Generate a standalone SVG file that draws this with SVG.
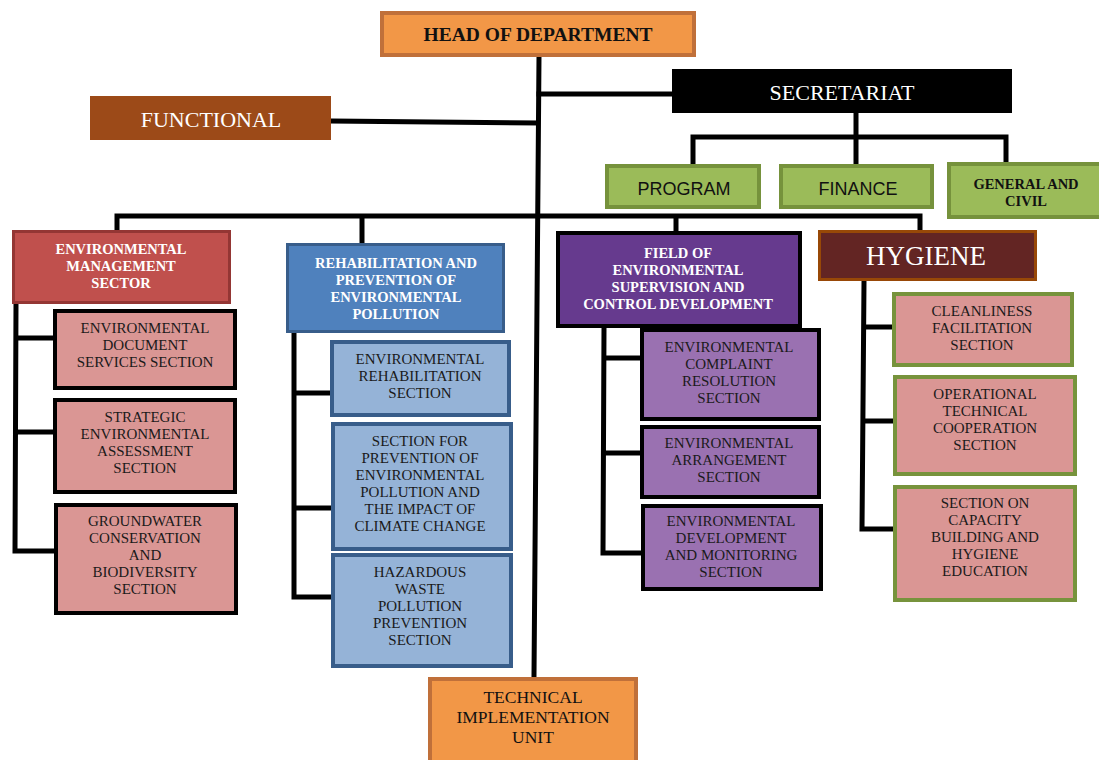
<svg xmlns="http://www.w3.org/2000/svg" width="1099" height="760" viewBox="0 0 1099 760">
<style>
.ln{stroke:#000;stroke-width:5;fill:none;stroke-linecap:square}
.t{font-family:"Liberation Serif","Times New Roman",serif;text-anchor:middle}
.b{font-weight:bold;font-size:14.5px;fill:#fff}
.s{font-size:15px;fill:#1a1a1a}
.sans{font-family:"Liberation Sans",Arial,sans-serif;text-anchor:middle;font-size:18px;fill:#111}
.org{fill:#F29747;stroke:#C0703A;stroke-width:4}
.grn{fill:#9BBB59;stroke:#76923C;stroke-width:4}
.pinkK{fill:#DA9694;stroke:#000;stroke-width:4}
.blu{fill:#95B3D7;stroke:#385D8A;stroke-width:4}
.pur{fill:#9A71B1;stroke:#000;stroke-width:4}
.pinkG{fill:#DA9694;stroke:#77933C;stroke-width:4}
</style>
<rect width="1099" height="760" fill="#fff"/>
<g id="connectors">
<path class="ln" d="M539 57 L534 676"/>
<path class="ln" d="M539 94 L672 94"/>
<path class="ln" d="M332 121 L537 123"/>
<path class="ln" d="M856 113 L856 164 M693 137 L1006 137 M693 137 L693 164 M1006 137 L1006 162"/>
<path class="ln" d="M117 216 L920 216 M117 216 L117 229 M362 216 L362 242 M676 216 L676 230 M920 216 L920 230"/>
<path class="ln" d="M16 304 L15 551 L53 551 M16 338 L53 338 M16 432 L53 432"/>
<path class="ln" d="M294 334 L294 597 L330 597 M294 393 L330 393 M294 508 L330 508"/>
<path class="ln" d="M604 328 L603 553 L640 553 M604 358 L640 358 M604 453 L640 453"/>
<path class="ln" d="M864 282 L862 529 L893 529 M864 327 L893 327 M863 421 L893 421"/>
</g>
<g id="head">
<rect class="org" x="382" y="13" width="312" height="42"/>
<text class="t" x="538" y="41" font-size="19.5" font-weight="bold" fill="#111">HEAD OF DEPARTMENT</text>
</g>
<g id="secretariat">
<rect x="672" y="69" width="340" height="44" fill="#000"/>
<text class="t" x="842" y="100" font-size="22" fill="#fff">SECRETARIAT</text>
</g>
<g id="functional">
<rect x="90" y="96" width="241" height="44" fill="#9C4A18"/>
<text class="t" x="211" y="127" font-size="22" fill="#fff">FUNCTIONAL</text>
</g>
<g id="program">
<rect class="grn" x="607" y="166" width="152" height="41"/>
<text class="sans" x="684" y="195">PROGRAM</text>
</g>
<g id="finance">
<rect class="grn" x="781" y="166" width="151" height="41"/>
<text class="sans" x="858" y="195">FINANCE</text>
</g>
<g id="general">
<rect class="grn" x="949" y="164" width="152" height="53"/>
<text class="t" x="1026" y="189" font-size="14.5" font-weight="bold" fill="#111">GENERAL AND</text>
<text class="t" x="1026" y="206" font-size="14.5" font-weight="bold" fill="#111">CIVIL</text>
</g>
<g id="env-mgmt">
<rect x="13.5" y="231.5" width="216" height="71" fill="#C0504D" stroke="#943634" stroke-width="3"/>
<text class="t b" x="121" y="254">ENVIRONMENTAL</text>
<text class="t b" x="121" y="271">MANAGEMENT</text>
<text class="t b" x="121" y="288">SECTOR</text>
</g>
<g id="env-doc">
<rect class="pinkK" x="55" y="311" width="180" height="77"/>
<text class="t s" x="145" y="333">ENVIRONMENTAL</text>
<text class="t s" x="145" y="350">DOCUMENT</text>
<text class="t s" x="145" y="367">SERVICES SECTION</text>
</g>
<g id="strategic">
<rect class="pinkK" x="55" y="400" width="180" height="92"/>
<text class="t s" x="145" y="422">STRATEGIC</text>
<text class="t s" x="145" y="439">ENVIRONMENTAL</text>
<text class="t s" x="145" y="456">ASSESSMENT</text>
<text class="t s" x="145" y="473">SECTION</text>
</g>
<g id="groundwater">
<rect class="pinkK" x="56" y="505" width="180" height="108"/>
<text class="t s" x="145" y="526">GROUNDWATER</text>
<text class="t s" x="145" y="543">CONSERVATION</text>
<text class="t s" x="145" y="560">AND</text>
<text class="t s" x="145" y="577">BIODIVERSITY</text>
<text class="t s" x="145" y="594">SECTION</text>
</g>
<g id="rehab">
<rect x="287.5" y="244.5" width="216" height="87" fill="#4F81BD" stroke="#385D8A" stroke-width="3"/>
<text class="t b" x="396" y="268">REHABILITATION AND</text>
<text class="t b" x="396" y="285">PREVENTION OF</text>
<text class="t b" x="396" y="302">ENVIRONMENTAL</text>
<text class="t b" x="396" y="319">POLLUTION</text>
</g>
<g id="env-rehab">
<rect class="blu" x="332" y="342" width="177" height="73"/>
<text class="t s" x="420" y="364">ENVIRONMENTAL</text>
<text class="t s" x="420" y="381">REHABILITATION</text>
<text class="t s" x="420" y="398">SECTION</text>
</g>
<g id="prevention">
<rect class="blu" x="333" y="424" width="178" height="125"/>
<text class="t s" x="420" y="446">SECTION FOR</text>
<text class="t s" x="420" y="463">PREVENTION OF</text>
<text class="t s" x="420" y="480">ENVIRONMENTAL</text>
<text class="t s" x="420" y="497">POLLUTION AND</text>
<text class="t s" x="420" y="514">THE IMPACT OF</text>
<text class="t s" x="420" y="531">CLIMATE CHANGE</text>
</g>
<g id="hazardous">
<rect class="blu" x="333" y="555" width="178" height="111"/>
<text class="t s" x="420" y="577">HAZARDOUS</text>
<text class="t s" x="420" y="594">WASTE</text>
<text class="t s" x="420" y="611">POLLUTION</text>
<text class="t s" x="420" y="628">PREVENTION</text>
<text class="t s" x="420" y="645">SECTION</text>
</g>
<g id="field">
<rect x="558" y="233" width="242" height="93" fill="#663A8E" stroke="#000" stroke-width="4"/>
<text class="t b" x="678" y="258">FIELD OF</text>
<text class="t b" x="678" y="275">ENVIRONMENTAL</text>
<text class="t b" x="678" y="292">SUPERVISION AND</text>
<text class="t b" x="678" y="309">CONTROL DEVELOPMENT</text>
</g>
<g id="complaint">
<rect class="pur" x="642" y="330" width="177" height="89"/>
<text class="t s" x="729" y="352">ENVIRONMENTAL</text>
<text class="t s" x="729" y="369">COMPLAINT</text>
<text class="t s" x="729" y="386">RESOLUTION</text>
<text class="t s" x="729" y="403">SECTION</text>
</g>
<g id="arrangement">
<rect class="pur" x="642" y="427" width="177" height="70"/>
<text class="t s" x="729" y="448">ENVIRONMENTAL</text>
<text class="t s" x="729" y="465">ARRANGEMENT</text>
<text class="t s" x="729" y="482">SECTION</text>
</g>
<g id="development">
<rect class="pur" x="643" y="506" width="178" height="83"/>
<text class="t s" x="731" y="526">ENVIRONMENTAL</text>
<text class="t s" x="731" y="543">DEVELOPMENT</text>
<text class="t s" x="731" y="560">AND MONITORING</text>
<text class="t s" x="731" y="577">SECTION</text>
</g>
<g id="hygiene">
<rect x="819.5" y="231.5" width="216" height="48" fill="#632523" stroke="#984807" stroke-width="3"/>
<text class="t" x="926" y="265" font-size="27" fill="#fff">HYGIENE</text>
</g>
<g id="cleanliness">
<rect class="pinkG" x="894" y="294" width="178" height="71"/>
<text class="t s" x="982" y="316">CLEANLINESS</text>
<text class="t s" x="982" y="333">FACILITATION</text>
<text class="t s" x="982" y="350">SECTION</text>
</g>
<g id="operational">
<rect class="pinkG" x="895" y="377" width="180" height="97"/>
<text class="t s" x="985" y="399">OPERATIONAL</text>
<text class="t s" x="985" y="416">TECHNICAL</text>
<text class="t s" x="985" y="433">COOPERATION</text>
<text class="t s" x="985" y="450">SECTION</text>
</g>
<g id="capacity">
<rect class="pinkG" x="895" y="487" width="180" height="113"/>
<text class="t s" x="985" y="508">SECTION ON</text>
<text class="t s" x="985" y="525">CAPACITY</text>
<text class="t s" x="985" y="542">BUILDING AND</text>
<text class="t s" x="985" y="559">HYGIENE</text>
<text class="t s" x="985" y="576">EDUCATION</text>
</g>
<g id="technical">
<rect class="org" x="430" y="679" width="206" height="84"/>
<text class="t" x="533" y="703" font-size="17.5" fill="#111">TECHNICAL</text>
<text class="t" x="533" y="723" font-size="17.5" fill="#111">IMPLEMENTATION</text>
<text class="t" x="533" y="743" font-size="17.5" fill="#111">UNIT</text>
</g>
</svg>
